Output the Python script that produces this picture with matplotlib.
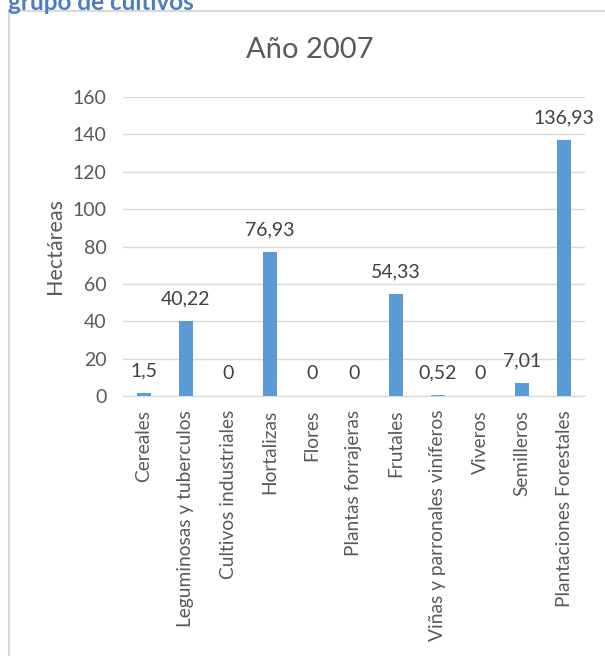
import matplotlib.pyplot as plt
from matplotlib.patches import Rectangle

plt.rcParams['font.family'] = ['Lato', 'DejaVu Sans']

categorias = ["Cereales", "Leguminosas y tuberculos", "Cultivos industriales",
              "Hortalizas", "Flores", "Plantas forrajeras", "Frutales",
              "Viñas y parronales viníferos", "Viveros", "Semilleros",
              "Plantaciones Forestales"]
hectareas = [1.5, 40.22, 0, 76.93, 0, 0, 54.33, 0.52, 0, 7.01, 136.93]
etiquetas = ["1,5", "40,22", "0", "76,93", "0", "0", "54,33", "0,52", "0", "7,01", "136,93"]
yticks = [0, 20, 40, 60, 80, 100, 120, 140, 160]

fig = plt.figure(figsize=(6.05, 6.56), dpi=100)

# marco del grafico (cortado a la derecha y abajo)
fig.patches.append(Rectangle((9/605, -0.05), 1.1, 1 - 11/656 + 0.05,
                             transform=fig.transFigure, fill=False,
                             edgecolor="#D9D9D9", linewidth=1.5))
fig.text(8/605, 1 - 9.5/656, "grupo de cultivos", color="#4A7EC0",
         fontsize=17.5, fontweight="bold", va="baseline", ha="left")
fig.text(310/605, 1 - 50/656, "Año 2007", fontsize=21, color="#595959",
         ha="center", va="center")

ax = fig.add_axes([123/605, 1 - 396/656, 462/605, 299/656])
x = range(len(categorias))
ax.bar(x, hectareas, width=0.33, color="#5B9BD5", zorder=2)

for i, (v, t) in enumerate(zip(hectareas, etiquetas)):
    ax.annotate(t, (i, v), xytext=(0, 10), textcoords="offset points",
                ha="center", va="bottom", fontsize=14, color="#404040")

ax.set_ylim(0, 160)
ax.set_xlim(-0.5, len(categorias) - 0.5)
ax.set_yticks(yticks)
ax.set_xticks(list(x))
ax.set_xticklabels(categorias, rotation=90, fontsize=13.8, color="#595959")
ax.tick_params(axis="y", labelsize=14, labelcolor="#595959", length=0, pad=12)
ax.tick_params(axis="x", length=0, pad=10)
ax.grid(axis="y", color="#D9D9D9", linewidth=1, zorder=0)
for s in ["top", "right", "left"]:
    ax.spines[s].set_visible(False)
ax.spines["bottom"].set_color("#D9D9D9")
ax.set_ylabel("Hectáreas", fontsize=15.5, color="#595959", labelpad=5)

fig.savefig("out.png", dpi=100)
